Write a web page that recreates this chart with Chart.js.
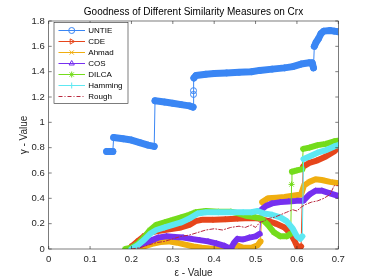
<!DOCTYPE html>
<html>
<head>
<meta charset="utf-8">
<script src="https://cdn.jsdelivr.net/npm/chart.js@4.4.1/dist/chart.umd.min.js"></script>
<style>
body { margin: 0; background: #fff; }
canvas { display: block; }
</style>
</head>
<body>
<canvas id="goodnessChart" width="374" height="280"></canvas>
<script>
const titleText = "Goodness of Different Similarity Measures on Crx";
const measures = ["UNTIE", "CDE", "Ahmad", "COS", "DILCA", "Hamming", "Rough"];
const xTicks = [0, 0.1, 0.2, 0.3, 0.4, 0.5, 0.6, 0.7];
const yTicks = [0, 0.2, 0.4, 0.6, 0.8, 1, 1.2, 1.4, 1.6, 1.8];

const epsUntie = [0.140, 0.148, 0.155, 0.157, 0.18, 0.20, 0.22, 0.24, 0.255, 0.257, 0.28, 0.30, 0.32, 0.34, 0.349,
    0.350, 0.350, 0.351, 0.356, 0.38, 0.40, 0.43, 0.46, 0.49, 0.51, 0.54, 0.57, 0.59, 0.61, 0.63, 0.637,
    0.640, 0.642, 0.646, 0.652, 0.658, 0.665, 0.68, 0.69, 0.70];
const untie = [0.77, 0.77, 0.77, 0.88, 0.87, 0.86, 0.84, 0.82, 0.81, 1.17, 1.16, 1.15, 1.14, 1.13, 1.12,
    1.22, 1.25, 1.35, 1.37, 1.38, 1.385, 1.39, 1.395, 1.40, 1.41, 1.42, 1.43, 1.44, 1.46, 1.47, 1.47,
    1.43, 1.60, 1.63, 1.66, 1.70, 1.72, 1.725, 1.72, 1.715];

const epsCde = [0.20, 0.215, 0.23, 0.245, 0.26, 0.28, 0.30, 0.32, 0.34, 0.355, 0.37, 0.40, 0.43, 0.46, 0.49, 0.51,
    0.53, 0.55, 0.57, 0.585, 0.595, 0.603, 0.61, 0.615, 0.63, 0.65, 0.67, 0.69, 0.70];
const cde = [0.02, 0.06, 0.10, 0.13, 0.14, 0.15, 0.16, 0.17, 0.19, 0.22, 0.23, 0.23, 0.235, 0.24, 0.245, 0.24,
    0.22, 0.20, 0.17, 0.12, 0.06, 0.0, 0.02, 0.65, 0.68, 0.70, 0.73, 0.77, 0.80];

const epsAhmad = [0.21, 0.23, 0.25, 0.27, 0.29, 0.31, 0.33, 0.35, 0.37, 0.39, 0.41, 0.43, 0.445, 0.455, 0.47, 0.49,
    0.505, 0.512, 0.516, 0.53, 0.55, 0.57, 0.59, 0.61, 0.617, 0.63, 0.645, 0.66, 0.68, 0.70];
const ahmad = [0.0, 0.02, 0.04, 0.055, 0.06, 0.05, 0.035, 0.02, 0.01, 0.005, 0.0, 0.0, 0.02, 0.03, 0.01, 0.01,
    0.03, 0.06, 0.37, 0.40, 0.405, 0.41, 0.42, 0.43, 0.50, 0.53, 0.55, 0.545, 0.53, 0.52];

const epsCos = [0.205, 0.22, 0.235, 0.25, 0.265, 0.285, 0.305, 0.325, 0.345, 0.365, 0.385, 0.405, 0.425, 0.44,
    0.448, 0.456, 0.47, 0.485, 0.50, 0.51, 0.514, 0.525, 0.54, 0.56, 0.58, 0.60, 0.615, 0.63, 0.645, 0.66, 0.68, 0.70];
const cos = [0.02, 0.03, 0.05, 0.07, 0.09, 0.10, 0.095, 0.09, 0.08, 0.07, 0.06, 0.045, 0.025, 0.0,
    0.05, 0.08, 0.075, 0.09, 0.10, 0.12, 0.31, 0.34, 0.36, 0.37, 0.375, 0.38, 0.38, 0.43, 0.46, 0.46, 0.44, 0.42];

const epsDilca = [0.185, 0.20, 0.215, 0.23, 0.245, 0.26, 0.28, 0.30, 0.32, 0.34, 0.355, 0.38, 0.41, 0.44, 0.46,
    0.48, 0.50, 0.515, 0.53, 0.545, 0.56, 0.575, 0.585, 0.587, 0.588, 0.60, 0.613, 0.615, 0.63, 0.65, 0.67, 0.69, 0.70];
const dilca = [0.0, 0.01, 0.04, 0.09, 0.15, 0.19, 0.21, 0.23, 0.25, 0.27, 0.29, 0.30, 0.295, 0.295, 0.28,
    0.26, 0.25, 0.24, 0.19, 0.13, 0.10, 0.10, 0.12, 0.51, 0.61, 0.62, 0.63, 0.79, 0.80, 0.82, 0.83, 0.85, 0.855];

const epsHamming = [0.20, 0.215, 0.23, 0.245, 0.26, 0.28, 0.30, 0.32, 0.34, 0.36, 0.38, 0.41, 0.44, 0.47, 0.49,
    0.505, 0.52, 0.54, 0.56, 0.575, 0.59, 0.60, 0.608, 0.613, 0.616, 0.63, 0.65, 0.67, 0.69, 0.70];
const hamming = [0.0, 0.03, 0.07, 0.12, 0.15, 0.17, 0.19, 0.21, 0.24, 0.28, 0.29, 0.29, 0.29, 0.29, 0.29,
    0.30, 0.28, 0.27, 0.25, 0.22, 0.16, 0.10, 0.08, 0.10, 0.71, 0.73, 0.76, 0.78, 0.81, 0.82];

const epsRough = [0.20, 0.22, 0.24, 0.26, 0.28, 0.30, 0.32, 0.34, 0.36, 0.38, 0.40, 0.42, 0.44, 0.46, 0.475, 0.49,
    0.50, 0.51, 0.52, 0.53, 0.545, 0.56, 0.575, 0.59, 0.60, 0.61, 0.62, 0.635, 0.65, 0.665, 0.68, 0.69, 0.70];
const rough = [0.0, 0.01, 0.03, 0.05, 0.06, 0.08, 0.10, 0.11, 0.13, 0.15, 0.16, 0.15, 0.17, 0.18, 0.17, 0.19,
    0.17, 0.21, 0.22, 0.24, 0.25, 0.27, 0.29, 0.31, 0.30, 0.33, 0.35, 0.37, 0.38, 0.40, 0.43, 0.50, 0.50];

const colors = ["#3a86f4", "#e6461c", "#f0ae10", "#7630f0", "#74dc1c", "#5ee8f2", "#b8283e"];
const styles = ["circle", "triangle", "crossRot", "triangle", "star", "cross", false];
const rotations = [0, 90, 0, 0, 0, 0, 0];

function pairs(xs, ys) {
    return xs.map((v, i) => ({ x: v, y: ys[i] }));
}

// thin connector for the vertical jumps, thick band elsewhere (the dense markers)
function segWidth(wide) {
    return ctx => {
        const dx = Math.abs(ctx.p1.parsed.x - ctx.p0.parsed.x);
        const dy = Math.abs(ctx.p1.parsed.y - ctx.p0.parsed.y);
        return (dy > 0.08 && dx < 0.01) || dx < 0.0015 ? 1 : wide;
    };
}

const series = [
    pairs(epsUntie, untie), pairs(epsCde, cde), pairs(epsAhmad, ahmad), pairs(epsCos, cos),
    pairs(epsDilca, dilca), pairs(epsHamming, hamming), pairs(epsRough, rough)
];

const datasets = series.map((data, i) => {
    const isRough = i === 6;
    const wide = i === 0 ? 7 : 6;
    return {
        label: measures[i],
        data: data,
        showLine: true,
        borderColor: colors[i],
        backgroundColor: colors[i],
        borderWidth: isRough ? 1 : wide,
        borderDash: isRough ? [4, 2, 1, 2] : [],
        borderCapStyle: "round",
        borderJoinStyle: "round",
        segment: isRough ? {} : { borderWidth: segWidth(wide) },
        pointStyle: styles[i],
        pointRotation: rotations[i],
        pointRadius: isRough ? 0 : 3,
        pointBorderWidth: 1,
        pointBorderColor: colors[i],
        pointBackgroundColor: "rgba(255,255,255,0)",
        order: 6 - i
    };
});

const font = '"Liberation Sans", Arial, sans-serif';

const matlabFrame = {
    id: "matlabFrame",
    afterDatasetsDraw(chart) {
        const { ctx, chartArea: a, scales: { x, y } } = chart;
        ctx.save();
        ctx.strokeStyle = "#262626";
        ctx.lineWidth = 0.6;
        ctx.strokeRect(a.left, a.top, a.right - a.left, a.bottom - a.top);
        ctx.beginPath();
        xTicks.forEach(v => {
            const px = x.getPixelForValue(v);
            ctx.moveTo(px, a.bottom); ctx.lineTo(px, a.bottom - 3);
            ctx.moveTo(px, a.top); ctx.lineTo(px, a.top + 3);
        });
        yTicks.forEach(v => {
            const py = y.getPixelForValue(v);
            ctx.moveTo(a.left, py); ctx.lineTo(a.left + 3, py);
            ctx.moveTo(a.right, py); ctx.lineTo(a.right - 3, py);
        });
        ctx.stroke();

        ctx.fillStyle = "#000";
        ctx.font = "10px " + font;
        ctx.textAlign = "center";
        ctx.textBaseline = "alphabetic";
        ctx.fillText(titleText, (a.left + a.right) / 2, 15);

        ctx.fillStyle = "#262626";
        ctx.fillText("\u03b5 - Value", (a.left + a.right) / 2, 276);
        ctx.save();
        ctx.translate(27, (a.top + a.bottom) / 2);
        ctx.rotate(-Math.PI / 2);
        ctx.fillText("\u03b3 - Value", 0, 0);
        ctx.restore();

        // legend box
        const bx = 54, by = 22.5, bw = 74, bh = 81;
        ctx.fillStyle = "#fff";
        ctx.fillRect(bx, by, bw, bh);
        ctx.strokeStyle = "#262626";
        ctx.lineWidth = 0.6;
        ctx.strokeRect(bx, by, bw, bh);
        ctx.font = "8px " + font;
        ctx.textAlign = "left";
        ctx.textBaseline = "middle";
        measures.forEach((name, i) => {
            const ry = 30.5 + i * 11;
            ctx.strokeStyle = colors[i];
            ctx.lineWidth = 1;
            ctx.setLineDash(i === 6 ? [4, 2, 1, 2] : []);
            ctx.beginPath();
            ctx.moveTo(58.5, ry); ctx.lineTo(85, ry);
            ctx.stroke();
            ctx.setLineDash([]);
            if (styles[i] && Chart.helpers && Chart.helpers.drawPoint) {
                ctx.fillStyle = "rgba(255,255,255,0)";
                Chart.helpers.drawPoint(ctx, {
                    pointStyle: styles[i], rotation: rotations[i], radius: 3, borderWidth: 1
                }, 71.7, ry);
            }
            ctx.fillStyle = "#000";
            ctx.fillText(name, 88.3, ry + 0.5);
        });
        ctx.restore();
    }
};

new Chart(document.getElementById("goodnessChart"), {
    type: "scatter",
    data: { datasets: datasets },
    options: {
        responsive: false,
        animation: false,
        layout: { padding: { top: 21, right: 35.7, bottom: 0, left: 0 } },
        plugins: { legend: { display: false }, tooltip: { enabled: false } },
        scales: {
            x: {
                type: "linear", min: 0, max: 0.7,
                afterBuildTicks: s => { s.ticks = xTicks.map(v => ({ value: v })); },
                afterFit: s => { s.height = 31; },
                grid: { display: false, drawTicks: false },
                border: { display: false },
                ticks: {
                    padding: 5, color: "#262626", font: { family: font, size: 9.5 },
                    callback: v => String(Math.round(v * 10) / 10)
                }
            },
            y: {
                type: "linear", min: 0, max: 1.8,
                afterBuildTicks: s => { s.ticks = yTicks.map(v => ({ value: v })); },
                afterFit: s => { s.width = 48.7; },
                grid: { display: false, drawTicks: false },
                border: { display: false },
                ticks: {
                    padding: 4, color: "#262626", font: { family: font, size: 9.5 },
                    callback: v => String(Math.round(v * 10) / 10)
                }
            }
        }
    },
    plugins: [matlabFrame]
});
</script>
</body>
</html>
